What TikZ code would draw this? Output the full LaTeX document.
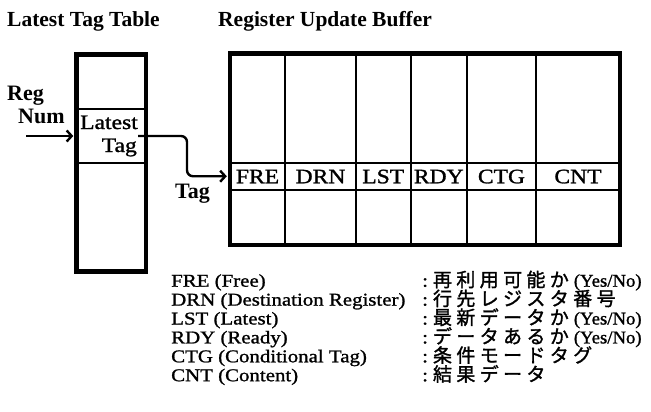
\documentclass[tikz,border=0pt]{standalone}
\usepackage{fontspec}
\setmainfont{Liberation Serif}
\newfontfamily\lgfont[FakeStretch=1.16,FakeBold=1.2]{Liberation Serif}
\newfontfamily\ynfont[FakeStretch=1.04,FakeBold=1.2]{Liberation Serif}
\newfontfamily\clfont[FakeStretch=1.15,FakeBold=1.3]{Liberation Serif}
\newfontfamily\jpfont[LetterSpace=23,FakeBold=1.5]{Noto Sans CJK JP}
\usetikzlibrary{arrows.meta}
\begin{document}
\begin{tikzpicture}[x=1pt,y=-1pt,
  outer/.style={line width=4.5pt},
  inner/.style={line width=2pt},
  conn/.style={line width=2.4pt,-{Straight Barb[length=5pt,width=11pt]}},
  title/.style={font=\fontsize{21.5}{24}\selectfont\bfseries, anchor=base west, inner sep=0pt},
  blab/.style={font=\fontsize{22}{24}\selectfont\bfseries, anchor=base west, inner sep=0pt},
  celltext/.style={font=\fontsize{20.5}{23}\clfont, anchor=base east, inner sep=0pt},
  bufcell/.style={font=\fontsize{20.5}{23}\clfont, minimum height=26.5pt, text height=14pt, text depth=0pt, inner sep=0pt},
  leg/.style={font=\fontsize{18}{20}\lgfont, anchor=base west, inner sep=0pt},
  jp/.style={font=\fontsize{18}{20}\lgfont, anchor=base west, inner sep=0pt},
]
\useasboundingbox (0,0) rectangle (651,412);

% titles
\node[title] (t1) at (7,26.5) {Latest Tag Table};
\node[title] (t2) at (218,26.5) {Register Update Buffer};

% latest tag table
\draw[inner] (76.5,109) -- (146,109);
\draw[inner] (76.5,163) -- (146,163);
\draw[outer] (76.5,54.5) rectangle (146,271.5);
\node[minimum width=69.5pt, minimum height=54pt, inner sep=0pt] (lt) at (111.25,136) {};
\node[celltext] (ltA) at (138,129) {Latest};
\node[celltext] (ltB) at (137,152) {Tag};

% reg num input
\node[blab] (reg) at (7,100) {Reg};
\node[blab] (num) at (18,123) {Num};
\coordinate (regin) at (26,136);
\draw[conn, shorten >=3pt] (regin) -- (lt.west);

% register update buffer
\foreach \x in {285,356,410.5,467,536} \draw[inner] (\x,53.5) -- (\x,245);
\draw[inner] (230,163) -- (620,163);
\draw[inner] (230,189.5) -- (620,189.5);
\draw[outer] (230,53.5) rectangle (620,245);
\node[bufcell, minimum width=55pt] (fre) at (257.5,176.25) {FRE};
\node[bufcell, minimum width=71pt] (drn) at (320.5,176.25) {DRN};
\node[bufcell, minimum width=54.5pt] (lst) at (383.25,176.25) {LST};
\node[bufcell, minimum width=56.5pt] (rdy) at (438.75,176.25) {RDY};
\node[bufcell, minimum width=69pt] (ctg) at (501.5,176.25) {CTG};
\node[bufcell, minimum width=84pt] (cnt) at (578,176.25) {CNT};

% tag connector
\coordinate (tagout) at (138,136);
\draw[conn, rounded corners=6pt, shorten >=3pt] (tagout) -- ++(49,0) |- (fre.west);
\node[blab] (taglab) at (175,198) {Tag};

% legend
\node[leg] (l1) at (171,286.7) {FRE (Free)};
\node[leg] (l2) at (171,305.6) {DRN (Destination Register)};
\node[leg] (l3) at (171,324.5) {LST (Latest)};
\node[leg] (l4) at (171,343.4) {RDY (Ready)};
\node[leg] (l5) at (171,362.3) {CTG (Conditional Tag)};
\node[leg] (l6) at (171,381.2) {CNT (Content)};
\node[jp] (j1) at (422,286.7) {:\hspace{5pt}{\fontsize{19}{20}\jpfont 再利用可能か}\hspace{5pt}{\ynfont (Yes/No)}};
\node[jp] (j2) at (422,305.6) {:\hspace{5pt}{\fontsize{19}{20}\jpfont 行先レジスタ番号}};
\node[jp] (j3) at (422,324.5) {:\hspace{5pt}{\fontsize{19}{20}\jpfont 最新データか}\hspace{5pt}{\ynfont (Yes/No)}};
\node[jp] (j4) at (422,343.4) {:\hspace{5pt}{\fontsize{19}{20}\jpfont データあるか}\hspace{5pt}{\ynfont (Yes/No)}};
\node[jp] (j5) at (422,362.3) {:\hspace{5pt}{\fontsize{19}{20}\jpfont 条件モードタグ}};
\node[jp] (j6) at (422,381.2) {:\hspace{5pt}{\fontsize{19}{20}\jpfont 結果データ}};
\end{tikzpicture}
\end{document}
